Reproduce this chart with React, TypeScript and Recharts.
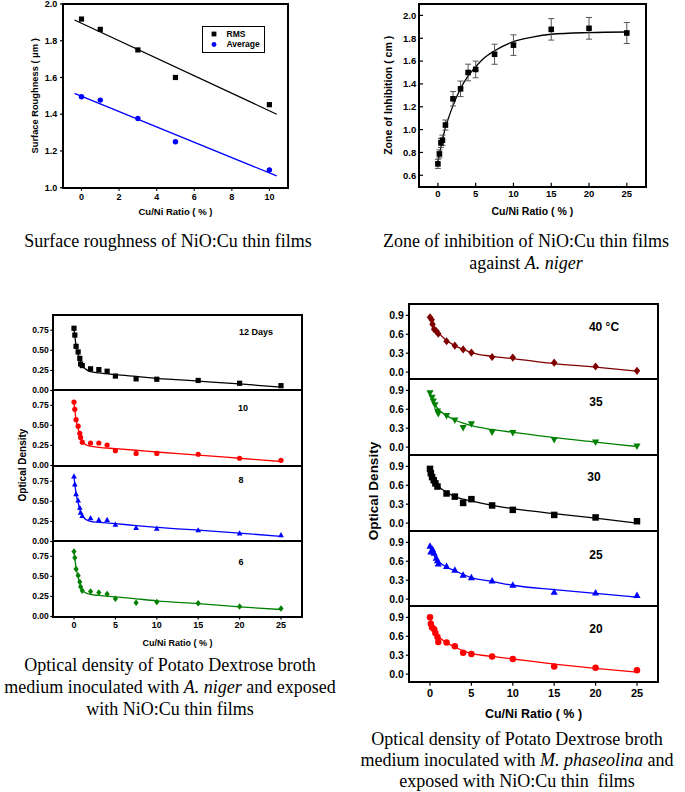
import React from "react";
import {
  ComposedChart,
  Line,
  Scatter,
  XAxis,
  YAxis,
  ErrorBar,
  Legend,
  Label,
} from "recharts";

const SANS = "'Liberation Sans', Arial, sans-serif";
const SERIF = "'Liberation Serif', 'Times New Roman', serif";

// ---------- surface roughness (top left) ----------
const roughRatio = [0, 1, 3, 5, 10];
const rmsValues = [1.918, 1.862, 1.75, 1.6, 1.452];
const averageValues = [1.495, 1.477, 1.377, 1.25, 1.096];
const roughFitRatio = [-0.37, 10.39];
const rmsFitValues = [1.913, 1.4];
const averageFitValues = [1.514, 1.064];
const roughXTicks = [0, 2, 4, 6, 8, 10];
const roughYTicks = [1.0, 1.2, 1.4, 1.6, 1.8, 2.0];
const legendOrder = ["RMS", "Average"];

// ---------- zone of inhibition (top right) ----------
const zoneRatio = [0, 0.2, 0.4, 0.6, 1, 2, 3, 4, 5, 7.5, 10, 15, 20, 25];
const zoneValues = [0.7, 0.787, 0.884, 0.907, 1.04, 1.27, 1.357, 1.5, 1.527, 1.66, 1.74, 1.878, 1.887, 1.846];
const zoneErrors = [0.04, 0.035, 0.04, 0.045, 0.044, 0.063, 0.068, 0.073, 0.073, 0.088, 0.09, 0.094, 0.095, 0.092];
const zoneFitRatio = [0, 0.5, 1, 1.5, 2, 3, 4, 5, 6, 7.5, 10, 12.5, 15, 20, 25];
const zoneFitValues = [0.72, 0.88, 1.02, 1.12, 1.21, 1.36, 1.47, 1.55, 1.62, 1.69, 1.77, 1.81, 1.835, 1.85, 1.855];
const zoneYTicks = [0.6, 0.8, 1.0, 1.2, 1.4, 1.6, 1.8, 2.0];

const ratioTicks = [0, 5, 10, 15, 20, 25];
const ratioDomain: [number, number] = [-2.5, 27.5];

// ---------- optical density, A. niger (bottom left) ----------
const nigerRatio = [0, 0.1, 0.25, 0.5, 0.7, 0.8, 1, 2, 3, 4, 5, 7.5, 10, 15, 20, 25];
const day12 = [0.775, 0.69, 0.55, 0.48, 0.4, 0.33, 0.31, 0.27, 0.26, 0.24, 0.18, 0.145, 0.14, 0.125, 0.09, 0.06];
const day10 = [0.79, 0.7, 0.57, 0.49, 0.4, 0.35, 0.29, 0.28, 0.28, 0.255, 0.185, 0.15, 0.15, 0.14, 0.09, 0.065];
const day8 = [0.81, 0.71, 0.59, 0.51, 0.42, 0.36, 0.32, 0.29, 0.27, 0.27, 0.21, 0.17, 0.16, 0.14, 0.1, 0.08];
const day6 = [0.81, 0.73, 0.59, 0.51, 0.43, 0.37, 0.32, 0.31, 0.3, 0.28, 0.22, 0.17, 0.18, 0.165, 0.125, 0.1];
const nigerFitRatio = [0, 0.25, 0.5, 0.75, 1, 1.5, 2, 3, 5, 7.5, 10, 15, 20, 25];
const day12Fit = [0.77, 0.56, 0.45, 0.37, 0.31, 0.26, 0.235, 0.22, 0.198, 0.175, 0.152, 0.117, 0.082, 0.042];
const day10Fit = [0.78, 0.57, 0.46, 0.37, 0.3, 0.255, 0.24, 0.225, 0.21, 0.19, 0.168, 0.13, 0.09, 0.05];
const day8Fit = [0.8, 0.6, 0.48, 0.38, 0.32, 0.27, 0.25, 0.238, 0.222, 0.198, 0.176, 0.142, 0.105, 0.063];
const day6Fit = [0.8, 0.61, 0.49, 0.4, 0.33, 0.29, 0.275, 0.262, 0.245, 0.22, 0.195, 0.16, 0.12, 0.087];
const nigerYTicks = [0, 0.25, 0.5, 0.75];

// ---------- optical density, M. phaseolina (bottom right) ----------
const t40Ratio = [0, 0.2, 0.3, 0.5, 0.75, 1, 2, 3, 4, 5, 7.5, 10, 15, 20, 25];
const t40 = [0.87, 0.83, 0.76, 0.68, 0.65, 0.61, 0.49, 0.42, 0.36, 0.31, 0.24, 0.23, 0.15, 0.09, 0.02];
const t35Ratio = [0, 0.25, 0.4, 0.6, 0.9, 1, 2, 3, 4, 5, 7.5, 10, 15, 20, 25];
const t35 = [0.86, 0.79, 0.73, 0.67, 0.57, 0.53, 0.5, 0.43, 0.31, 0.37, 0.24, 0.23, 0.12, 0.08, 0.015];
const t30Ratio = [0, 0.1, 0.25, 0.45, 0.65, 0.9, 2, 3, 4, 5, 7.5, 10, 15, 20, 25];
const t30 = [0.86, 0.79, 0.73, 0.68, 0.63, 0.58, 0.47, 0.42, 0.32, 0.38, 0.28, 0.21, 0.13, 0.09, 0.03];
const t25Ratio = [0, 0.1, 0.3, 0.5, 0.75, 0.9, 1, 2, 3, 4, 5, 7.5, 10, 15, 20, 25];
const t25 = [0.84, 0.75, 0.79, 0.73, 0.65, 0.61, 0.56, 0.52, 0.46, 0.38, 0.34, 0.29, 0.22, 0.11, 0.1, 0.06];
const t20Ratio = [0, 0.1, 0.25, 0.5, 0.65, 0.9, 1, 2, 3, 4, 5, 7.5, 10, 15, 20, 25];
const t20 = [0.9, 0.8, 0.74, 0.71, 0.65, 0.59, 0.51, 0.5, 0.44, 0.34, 0.32, 0.28, 0.24, 0.12, 0.1, 0.06];
const tempFitRatio = [0, 0.5, 1, 2, 3, 4, 5, 7.5, 10, 15, 20, 25];
const t40Fit = [0.86, 0.72, 0.63, 0.5, 0.42, 0.36, 0.31, 0.25, 0.215, 0.135, 0.08, 0.016];
const t35Fit = [0.85, 0.7, 0.6, 0.5, 0.43, 0.38, 0.34, 0.28, 0.235, 0.15, 0.08, 0.01];
const t30Fit = [0.85, 0.69, 0.59, 0.49, 0.42, 0.38, 0.35, 0.28, 0.23, 0.15, 0.08, 0.0];
const t25Fit = [0.82, 0.69, 0.6, 0.51, 0.45, 0.39, 0.34, 0.28, 0.22, 0.15, 0.09, 0.03];
const t20Fit = [0.88, 0.7, 0.6, 0.5, 0.43, 0.37, 0.33, 0.28, 0.24, 0.16, 0.09, 0.03];
const tempYTicks = [0, 0.3, 0.6, 0.9];

type Pt = { x: number; y: number; err?: number };
const toPts = (xs: number[], ys: number[]): Pt[] => xs.map((x, i) => ({ x, y: ys[i] }));

type Kind = "square" | "circle" | "triangle" | "triangleDown" | "diamond";

const drawMarker = (kind: Kind, size: number, fill: string, cx: number, cy: number) => {
  const r = size / 2;
  switch (kind) {
    case "square":
      return <rect x={cx - r} y={cy - r} width={size} height={size} fill={fill} />;
    case "circle":
      return <circle cx={cx} cy={cy} r={r} fill={fill} />;
    case "triangle":
      return (
        <polygon
          points={`${cx},${cy - r * 1.2} ${cx + r * 1.1},${cy + r * 0.8} ${cx - r * 1.1},${cy + r * 0.8}`}
          fill={fill}
        />
      );
    case "triangleDown":
      return (
        <polygon
          points={`${cx},${cy + r * 1.2} ${cx + r * 1.1},${cy - r * 0.8} ${cx - r * 1.1},${cy - r * 0.8}`}
          fill={fill}
        />
      );
    default:
      return (
        <polygon
          points={`${cx},${cy - r * 1.25} ${cx + r},${cy} ${cx},${cy + r * 1.25} ${cx - r},${cy}`}
          fill={fill}
        />
      );
  }
};

const markerShape = (kind: Kind, size: number, fill: string) => (props: any) => {
  if (props.cx == null || props.cy == null) return <g />;
  return drawMarker(kind, size, fill, props.cx, props.cy);
};

// tick renderer: axis has tickSize 0 / tickMargin 0, so (x, y) is the axis point.
// len > 0 points outward, len < 0 points into the plot; gap is axis-to-text distance.
type TickOpts = {
  side: "left" | "bottom" | "right";
  len: number;
  gap: number;
  font: number;
  fmt?: (v: number) => string;
};
const makeTick = (o: TickOpts) => (props: any) => {
  const { x, y, payload } = props;
  const label = o.fmt ? o.fmt(payload.value) : String(payload.value);
  const ts = { fontSize: o.font, fontWeight: 700, fontFamily: SANS, fill: "#000" };
  if (o.side === "bottom") {
    return (
      <g>
        <line x1={x} x2={x} y1={y} y2={y + o.len} stroke="#000" strokeWidth={1.2} />
        {o.gap > 0 && (
          <text x={x} y={y + o.gap} dy="0.71em" textAnchor="middle" style={ts}>
            {label}
          </text>
        )}
      </g>
    );
  }
  if (o.side === "right") {
    return <line x1={x} x2={x + o.len} y1={y} y2={y} stroke="#000" strokeWidth={1.2} />;
  }
  return (
    <g>
      <line x1={x} x2={x - o.len} y1={y} y2={y} stroke="#000" strokeWidth={1.2} />
      <text x={x - o.gap} y={y} dy="0.35em" textAnchor="end" style={ts}>
        {label}
      </text>
    </g>
  );
};

// plot frame drawn over the chart's plotting box
const Frame = ({ l, t, r, b }: { l: number; t: number; r: number; b: number }) => (
  <div
    style={{
      position: "absolute",
      left: l - 1,
      top: t - 1,
      width: r - l + 2,
      height: b - t + 2,
      border: "2px solid #000",
      boxSizing: "border-box",
      pointerEvents: "none",
    }}
  />
);

// ---------- stacked panels ----------
type Sub = {
  label: string;
  color: string;
  kind: Kind;
  pts: Pt[];
  fit: Pt[];
  labelAt: [number, number];
};

type StackSpec = {
  chartLeft: number;
  chartWidth: number;
  plotLeft: number;
  plotRight: number;
  top: number;
  subH: number;
  yDomain: [number, number];
  yTicks: number[];
  yFmt: (v: number) => string;
  tickFont: number;
  titleFont: number;
  labelFont: number;
  marker: number;
  yTickLen: number;
  yGap: number;
  xTickLen: number;
  xGap: number;
  bottomH: number;
  titleOffset: number;
  yTitleAt: [number, number];
};

function Stack({ spec, subs }: { spec: StackSpec; subs: Sub[] }) {
  const pad = 7;
  const yTick = makeTick({ side: "left", len: spec.yTickLen, gap: spec.yGap, font: spec.tickFont, fmt: spec.yFmt });
  const rTick = makeTick({ side: "right", len: -3, gap: 0, font: spec.tickFont });
  const xInner = makeTick({ side: "bottom", len: -3, gap: 0, font: spec.tickFont });
  const xLast = makeTick({ side: "bottom", len: spec.xTickLen, gap: spec.xGap, font: spec.tickFont + 0.5 });
  return (
    <>
      {subs.map((s, i) => {
        const last = i === subs.length - 1;
        const h = pad + spec.subH + (last ? spec.bottomH : pad);
        return (
          <div
            key={s.label}
            style={{ position: "absolute", left: spec.chartLeft, top: spec.top + i * spec.subH - pad }}
          >
            <ComposedChart
              width={spec.chartWidth}
              height={h}
              margin={{
                top: pad,
                right: spec.chartLeft + spec.chartWidth - spec.plotRight,
                bottom: last ? 0 : pad,
                left: 0,
              }}
            >
              <XAxis
                type="number"
                dataKey="x"
                domain={ratioDomain}
                ticks={ratioTicks}
                height={last ? spec.bottomH : 0}
                axisLine={false}
                tickLine={false}
                tickSize={0}
                tickMargin={0}
                tick={last ? xLast : xInner}
                interval={0}
              >
                {last && (
                  <Label
                    value="Cu/Ni Ratio ( % )"
                    position="insideBottom"
                    offset={spec.titleOffset}
                    style={{ fontSize: spec.titleFont, fontWeight: 700, fontFamily: SANS, fill: "#000" }}
                  />
                )}
              </XAxis>
              <YAxis
                type="number"
                dataKey="y"
                domain={spec.yDomain}
                ticks={spec.yTicks}
                width={spec.plotLeft - spec.chartLeft}
                axisLine={false}
                tickLine={false}
                tickSize={0}
                tickMargin={0}
                tick={yTick}
                interval={0}
              />
              <YAxis
                yAxisId="right"
                orientation="right"
                type="number"
                domain={spec.yDomain}
                ticks={spec.yTicks}
                width={0}
                axisLine={false}
                tickLine={false}
                tickSize={0}
                tickMargin={0}
                tick={rTick}
                interval={0}
              />
              <Line
                data={s.fit}
                dataKey="y"
                type="monotone"
                stroke={s.color}
                strokeWidth={1.3}
                dot={false}
                activeDot={false}
                legendType="none"
                isAnimationActive={false}
              />
              <Scatter
                data={s.pts}
                dataKey="y"
                fill={s.color}
                shape={markerShape(s.kind, spec.marker, s.color)}
                isAnimationActive={false}
              />
            </ComposedChart>
          </div>
        );
      })}
      {subs.map((s, i) => (
        <Frame
          key={"f" + s.label}
          l={spec.plotLeft}
          r={spec.plotRight}
          t={spec.top + i * spec.subH}
          b={spec.top + (i + 1) * spec.subH}
        />
      ))}
      {subs.map((s) => (
        <div
          key={"l" + s.label}
          style={{
            position: "absolute",
            left: s.labelAt[0],
            top: s.labelAt[1],
            transform: "translate(-50%, -50%)",
            fontFamily: SANS,
            fontWeight: 700,
            fontSize: spec.labelFont,
            whiteSpace: "nowrap",
          }}
        >
          {s.label}
        </div>
      ))}
      <div
        style={{
          position: "absolute",
          left: spec.yTitleAt[0],
          top: spec.yTitleAt[1],
          transform: "translate(-50%, -50%) rotate(-90deg)",
          fontFamily: SANS,
          fontWeight: 700,
          fontSize: spec.titleFont + 1,
          whiteSpace: "nowrap",
        }}
      >
        Optical Density
      </div>
    </>
  );
}

const nigerSpec: StackSpec = {
  chartLeft: 0,
  chartWidth: 340,
  plotLeft: 53.3,
  plotRight: 301.7,
  top: 314.5,
  subH: 75.5,
  yDomain: [0, 0.94],
  yTicks: nigerYTicks,
  yFmt: (v) => v.toFixed(2),
  tickFont: 8.5,
  titleFont: 9,
  labelFont: 9,
  marker: 5.2,
  yTickLen: 3,
  yGap: 4.5,
  xTickLen: 3,
  xGap: 5,
  bottomH: 36,
  titleOffset: 7,
  yTitleAt: [22, 465],
};

const nigerSubs: Sub[] = [
  { label: "12 Days", color: "#000000", kind: "square", pts: toPts(nigerRatio, day12), fit: toPts(nigerFitRatio, day12Fit), labelAt: [256, 332] },
  { label: "10", color: "#ff0000", kind: "circle", pts: toPts(nigerRatio, day10), fit: toPts(nigerFitRatio, day10Fit), labelAt: [243, 408] },
  { label: "8", color: "#0000ff", kind: "triangle", pts: toPts(nigerRatio, day8), fit: toPts(nigerFitRatio, day8Fit), labelAt: [241, 480] },
  { label: "6", color: "#008000", kind: "diamond", pts: toPts(nigerRatio, day6), fit: toPts(nigerFitRatio, day6Fit), labelAt: [241, 562] },
];

const tempSpec: StackSpec = {
  chartLeft: 340,
  chartWidth: 345,
  plotLeft: 409.3,
  plotRight: 657.7,
  top: 303.5,
  subH: 75.7,
  yDomain: [-0.12, 1.08],
  yTicks: tempYTicks,
  yFmt: (v) => v.toFixed(1),
  tickFont: 10.5,
  titleFont: 12.5,
  labelFont: 12,
  marker: 6.5,
  yTickLen: 3.5,
  yGap: 5.5,
  xTickLen: 4,
  xGap: 7,
  bottomH: 42,
  titleOffset: 5.5,
  yTitleAt: [373, 491],
};

const tempSubs: Sub[] = [
  { label: "40 °C", color: "#800000", kind: "diamond", pts: toPts(t40Ratio, t40), fit: toPts(tempFitRatio, t40Fit), labelAt: [604, 327] },
  { label: "35", color: "#008000", kind: "triangleDown", pts: toPts(t35Ratio, t35), fit: toPts(tempFitRatio, t35Fit), labelAt: [596, 402] },
  { label: "30", color: "#000000", kind: "square", pts: toPts(t30Ratio, t30), fit: toPts(tempFitRatio, t30Fit), labelAt: [594, 477] },
  { label: "25", color: "#0000ff", kind: "triangle", pts: toPts(t25Ratio, t25), fit: toPts(tempFitRatio, t25Fit), labelAt: [596, 555] },
  { label: "20", color: "#ff0000", kind: "circle", pts: toPts(t20Ratio, t20), fit: toPts(tempFitRatio, t20Fit), labelAt: [596, 629] },
];

// ---------- legend of the roughness plot ----------
const RoughLegend = (props: any) => {
  const items = (props.payload || [])
    .filter((p: any) => legendOrder.includes(p.value))
    .sort((a: any, b: any) => legendOrder.indexOf(a.value) - legendOrder.indexOf(b.value));
  return (
    <svg width={61} height={25} style={{ display: "block" }}>
      {items.map((p: any, i: number) => (
        <g key={p.value}>
          {drawMarker(p.value === "RMS" ? "square" : "circle", 4.8, p.color, 11, 7 + i * 10.5)}
          <text
            x={23.5}
            y={7 + i * 10.5}
            dy="0.35em"
            style={{ fontSize: 8.5, fontWeight: 700, fontFamily: SANS, fill: "#000" }}
          >
            {p.value}
          </text>
        </g>
      ))}
    </svg>
  );
};

const captionStyle: React.CSSProperties = {
  position: "absolute",
  fontFamily: SERIF,
  fontSize: 18,
  lineHeight: "22px",
  textAlign: "center",
  color: "#000",
  whiteSpace: "nowrap",
  transform: "translateX(-50%)",
};

export default function App() {
  const rmsPts = toPts(roughRatio, rmsValues);
  const avgPts = toPts(roughRatio, averageValues);
  const zonePts: Pt[] = zoneRatio.map((x, i) => ({ x, y: zoneValues[i], err: zoneErrors[i] }));

  return (
    <div
      style={{
        position: "absolute",
        left: 0,
        top: 0,
        width: 685,
        height: 792,
        background: "#fff",
        fontFamily: SANS,
        overflow: "hidden",
      }}
    >
      {/* Surface roughness */}
      <div style={{ position: "absolute", left: 0, top: 0 }}>
        <ComposedChart width={300} height={222} margin={{ top: 4, right: 11.8, bottom: 0, left: 0 }}>
          <XAxis
            type="number"
            dataKey="x"
            domain={[-1, 11]}
            ticks={roughXTicks}
            height={34.3}
            axisLine={false}
            tickLine={false}
            tickSize={0}
            tickMargin={0}
            tick={makeTick({ side: "bottom", len: 3, gap: 5.8, font: 9 })}
            interval={0}
          >
            <Label
              value="Cu/Ni Ratio ( % )"
              position="insideBottom"
              offset={6.6}
              style={{ fontSize: 9.5, fontWeight: 700, fontFamily: SANS, fill: "#000" }}
            />
          </XAxis>
          <YAxis
            type="number"
            dataKey="y"
            domain={[1.0, 2.0]}
            ticks={roughYTicks}
            width={62.7}
            axisLine={false}
            tickLine={false}
            tickSize={0}
            tickMargin={0}
            tick={makeTick({ side: "left", len: 2.7, gap: 5.4, font: 9, fmt: (v) => v.toFixed(1) })}
            interval={0}
          >
            <Label
              value="Surface Roughness ( μm )"
              angle={-90}
              position="insideLeft"
              offset={35}
              style={{ textAnchor: "middle", fontSize: 9.3, fontWeight: 700, fontFamily: SANS, fill: "#000" }}
            />
          </YAxis>
          <Line data={toPts(roughFitRatio, rmsFitValues)} dataKey="y" type="linear" stroke="#000" strokeWidth={1.3} dot={false} activeDot={false} legendType="none" isAnimationActive={false} />
          <Line data={toPts(roughFitRatio, averageFitValues)} dataKey="y" type="linear" stroke="#0000ff" strokeWidth={1.3} dot={false} activeDot={false} legendType="none" isAnimationActive={false} />
          <Scatter name="RMS" data={rmsPts} dataKey="y" fill="#000000" legendType="square" shape={markerShape("square", 5.2, "#000")} isAnimationActive={false} />
          <Scatter name="Average" data={avgPts} dataKey="y" fill="#0000ff" legendType="circle" shape={markerShape("circle", 5.4, "#0000ff")} isAnimationActive={false} />
          <Legend
            layout="vertical"
            align="center"
            verticalAlign="middle"
            content={RoughLegend}
            wrapperStyle={{
              left: 202,
              top: 26,
              width: 61,
              height: 25,
              border: "1px solid #000",
              background: "#fff",
              boxSizing: "content-box",
            }}
          />
        </ComposedChart>
      </div>
      <Frame l={62.7} t={4} r={288.2} b={187.7} />

      {/* Zone of inhibition */}
      <div style={{ position: "absolute", left: 340, top: 0 }}>
        <ComposedChart width={345} height={225} margin={{ top: 4, right: 39.3, bottom: 0, left: 0 }}>
          <XAxis
            type="number"
            dataKey="x"
            domain={ratioDomain}
            ticks={ratioTicks}
            height={38.3}
            axisLine={false}
            tickLine={false}
            tickSize={0}
            tickMargin={0}
            tick={makeTick({ side: "bottom", len: -4, gap: 3.5, font: 9.5 })}
            interval={0}
          >
            <Label
              value="Cu/Ni Ratio ( % )"
              position="insideBottom"
              offset={10.3}
              style={{ fontSize: 10.5, fontWeight: 700, fontFamily: SANS, fill: "#000" }}
            />
          </XAxis>
          <YAxis
            type="number"
            dataKey="y"
            domain={[0.5, 2.1]}
            ticks={zoneYTicks}
            width={79}
            axisLine={false}
            tickLine={false}
            tickSize={0}
            tickMargin={0}
            tick={makeTick({ side: "left", len: -4, gap: 2.8, font: 9.5, fmt: (v) => v.toFixed(1) })}
            interval={0}
          >
            <Label
              value="Zone of Inhibition ( cm )"
              angle={-90}
              position="insideLeft"
              offset={48}
              style={{ textAnchor: "middle", fontSize: 10.5, fontWeight: 700, fontFamily: SANS, fill: "#000" }}
            />
          </YAxis>
          <Line data={toPts(zoneFitRatio, zoneFitValues)} dataKey="y" type="monotone" stroke="#000" strokeWidth={1.3} dot={false} activeDot={false} legendType="none" isAnimationActive={false} />
          <Scatter data={zonePts} dataKey="y" fill="#000" shape={markerShape("square", 5.6, "#000")} isAnimationActive={false}>
            <ErrorBar dataKey="err" direction="y" width={3} stroke="#555" strokeWidth={1} />
          </Scatter>
        </ComposedChart>
      </div>
      <Frame l={419} t={4} r={645.7} b={186.7} />

      <Stack spec={nigerSpec} subs={nigerSubs} />
      <Stack spec={tempSpec} subs={tempSubs} />

      <div style={{ ...captionStyle, left: 168, top: 230 }}>Surface roughness of NiO:Cu thin films</div>
      <div style={{ ...captionStyle, left: 526, top: 230 }}>
        Zone of inhibition of NiO:Cu thin films
        <br />
        against <i>A. niger</i>
      </div>
      <div style={{ ...captionStyle, left: 170, top: 654 }}>
        Optical density of Potato Dextrose broth
        <br />
        medium inoculated with <i>A. niger</i> and exposed
        <br />
        with NiO:Cu thin films
      </div>
      <div style={{ ...captionStyle, left: 517, top: 729, lineHeight: "21px" }}>
        Optical density of Potato Dextrose broth
        <br />
        medium inoculated with <i>M. phaseolina</i> and
        <br />
        exposed with NiO:Cu thin{"\u00a0"} films
      </div>
    </div>
  );
}
